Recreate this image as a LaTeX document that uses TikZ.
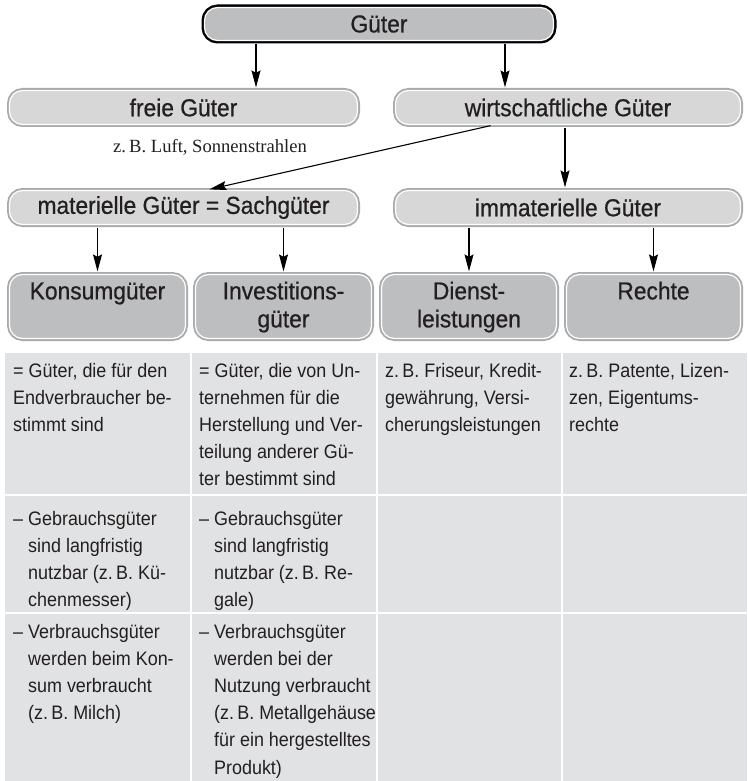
\documentclass[tikz,border=0pt]{standalone}
\usepackage{fontspec}
\setmainfont{Liberation Sans}[FakeStretch=0.92]
\newfontfamily\lblfont{Liberation Sans}[FakeStretch=0.93, FakeBold=0.7]
\newfontfamily\serifa{Liberation Serif}
\usetikzlibrary{arrows.meta,calc}
\definecolor{txt}{HTML}{231F20}
\definecolor{lightfill}{HTML}{D7D7D8}
\definecolor{darkfill}{HTML}{BDBEC0}
\definecolor{rim}{HTML}{A9AAAC}
\definecolor{tablefill}{HTML}{E1E2E3}
\newcommand{\hind}{\hphantom{– }}
\tikzset{
  boxbase/.style={rectangle, rounded corners=13pt, inner sep=0pt, draw=white, line width=1.2pt, text=txt, font=\lblfont\fontsize{24.5}{28}\selectfont},
  lightbox/.style={boxbase, fill=lightfill, preaction={draw=rim, line width=5pt}},
  darkbox/.style={boxbase, fill=darkfill, preaction={draw=rim, line width=5pt}},
  topbox/.style={boxbase, fill=darkfill, preaction={draw=black, line width=6pt}},
  arr/.style={-{Stealth[length=17pt,width=9pt,inset=2.5pt]}, line width=1.1pt, draw=black, shorten >=2.5pt, shorten <=2.5pt},
  lbl/.style={inner sep=0pt, anchor=base, text=txt, font=\lblfont\fontsize{24.5}{28}\selectfont},
  cell/.style={inner sep=0pt, anchor=base west, text=txt, font=\fontsize{19.5}{27.2}\selectfont},
  sep/.style={draw=white, line width=2pt},
}
\begin{document}
\begin{tikzpicture}[x=1pt,y=-1pt]
\useasboundingbox (0,0) rectangle (747,781);

% top level
\node[topbox, minimum width=349pt, minimum height=33pt] (gueter) at (379,24) {Güter};

% second level
\node[lightbox, minimum width=348pt, minimum height=34pt] (freie) at (183.5,107.5) {freie Güter};
\node[lightbox, minimum width=345pt, minimum height=34pt] (wirt) at (568,107.5) {wirtschaftliche Güter};
\node[inner sep=0pt, anchor=base west, text=txt, font=\serifa\fontsize{18.6}{22}\selectfont] (zb) at (113,152) {z.\,B. Luft, Sonnenstrahlen};

% third level
\node[lightbox, minimum width=348pt, minimum height=34pt] (mat) at (183.5,207.5) {materielle Güter = Sachgüter};
\node[lightbox, minimum width=345pt, minimum height=34pt] (immat) at (568,207.5) {immaterielle Güter};

% fourth level
\node[darkbox, minimum width=176pt, minimum height=64pt] (konsum) at (97.5,306.5) {};
\node[darkbox, minimum width=176pt, minimum height=64pt] (invest) at (283.5,306.5) {};
\node[darkbox, minimum width=175pt, minimum height=64pt] (dienst) at (469,306.5) {};
\node[darkbox, minimum width=174pt, minimum height=64pt] (rechte) at (653.5,306.5) {};
\node[lbl] (konsumT) at ([yshift=-25.5pt]konsum.north) {Konsumgüter};
\node[lbl] (investT) at ([yshift=-25.5pt]invest.north) {\parbox[t]{170pt}{\centering Investitions-\\güter}};
\node[lbl] (dienstT) at ([yshift=-25.5pt]dienst.north) {\parbox[t]{170pt}{\centering Dienst-\\leistungen}};
\node[lbl] (rechteT) at ([yshift=-25.5pt]rechte.north) {Rechte};

% connectors
\coordinate (a1) at (256,0);
\coordinate (a2) at (505,0);
\coordinate (d1) at (493,0);
\coordinate (d2) at (207,0);
\coordinate (a3) at (565,0);
\draw[arr] (gueter.south -| a1) -- (freie.north -| a1);
\draw[arr] (gueter.south -| a2) -- (wirt.north -| a2);
\draw[arr] (wirt.south -| d1) -- (mat.north -| d2);
\draw[arr] (wirt.south -| a3) -- (immat.north -| a3);
\draw[arr] (mat.south -| konsum) -- (konsum.north);
\draw[arr] (mat.south -| invest) -- (invest.north);
\draw[arr] (immat.south -| dienst) -- (dienst.north);
\draw[arr] (immat.south -| rechte) -- (rechte.north);

% table
\fill[tablefill] (5,353) rectangle (747,781);
\draw[sep] (191,353) -- (191,781);
\draw[sep] (377,353) -- (377,781);
\draw[sep] (562,353) -- (562,781);
\draw[sep] (5,495) -- (747,495);
\draw[sep] (5,613) -- (747,613);

\node[cell] (c11) at (13,377) {\parbox[t]{180pt}{\raggedright = Güter, die für den\\Endverbraucher be-\\stimmt sind}};
\node[cell] (c12) at (199,377) {\parbox[t]{180pt}{\raggedright = Güter, die von Un-\\ternehmen für die\\Herstellung und Ver-\\teilung anderer Gü-\\ter bestimmt sind}};
\node[cell] (c13) at (385,377) {\parbox[t]{180pt}{\raggedright z.\,B. Friseur, Kredit-\\gewährung, Versi-\\cherungsleistungen}};
\node[cell] (c14) at (569,377) {\parbox[t]{180pt}{\raggedright z.\,B. Patente, Lizen-\\zen, Eigentums-\\rechte}};

\node[cell] (c21) at (13,525) {\parbox[t]{180pt}{\raggedright – Gebrauchsgüter\\\hind sind langfristig\\\hind nutzbar (z.\,B. Kü-\\\hind chenmesser)}};
\node[cell] (c22) at (199,525) {\parbox[t]{180pt}{\raggedright – Gebrauchsgüter\\\hind sind langfristig\\\hind nutzbar (z.\,B. Re-\\\hind gale)}};

\node[cell] (c31) at (13,638) {\parbox[t]{180pt}{\raggedright – Verbrauchsgüter\\\hind werden beim Kon-\\\hind sum verbraucht\\\hind (z.\,B. Milch)}};
\node[cell] (c32) at (199,638) {\parbox[t]{180pt}{\raggedright – Verbrauchsgüter\\\hind werden bei der\\\hind Nutzung verbraucht\\\hind (z.\,B. Metallgehäuse\\\hind für ein hergestelltes\\\hind Produkt)}};
\end{tikzpicture}
\end{document}
